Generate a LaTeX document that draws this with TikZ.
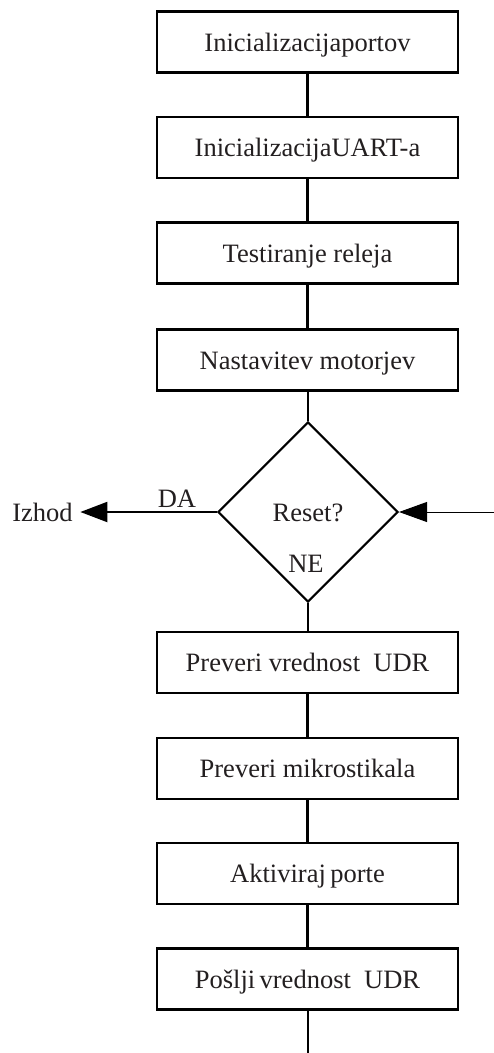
\documentclass[tikz,border=0pt]{standalone}
\usepackage{fontspec}
\setmainfont{Liberation Serif}
\usetikzlibrary{shapes.geometric,arrows.meta}
\definecolor{ink}{RGB}{35,31,32}
\begin{document}
\begin{tikzpicture}[x=1pt,y=-1pt,
  lbl/.style={text=ink, font=\fontsize{26.5}{30}\selectfont, inner sep=0pt, text height=18pt, text depth=0pt},
  stepbox/.style={lbl, draw=black, line width=2.1pt, minimum width=301pt, minimum height=61pt},
  decision/.style={lbl, diamond, draw=black, line width=2.1pt, minimum width=180pt, minimum height=180pt},
  conn/.style={draw=black, line width=2.1pt},
  arr/.style={conn, -{Triangle[length=27pt,width=20pt]}},
  thinarr/.style={draw=black, line width=1pt, -{Triangle[length=28pt,width=20pt]}}]
\useasboundingbox (0,0) rectangle (494,1053);
\node[stepbox] (b1) at (307.5,42) {Inicializacijaportov};
\node[stepbox] (b2) at (307.5,147.5) {InicializacijaUART-a};
\node[stepbox] (b3) at (307.5,253) {Testiranje releja};
\node[stepbox] (b4) at (307.5,360) {Nastavitev motorjev};
\node[decision] (dec) at (308,512) {Reset?};
\node[stepbox] (b5) at (307.5,662.5) {Preveri vrednost\ \ UDR};
\node[stepbox] (b6) at (307.5,768.5) {Preveri mikrostikala};
\node[stepbox] (b7) at (307.5,873.5) {Aktiviraj\,porte};
\node[stepbox] (b8) at (307.5,979) {Pošlji\,vrednost\ \ UDR};
\node[lbl, inner xsep=7.5pt] (izhod) at (42.5,512) {Izhod};
\node[lbl] (da) at (177,498) {DA};
\node[lbl] (ne) at (306,563) {NE};
\coordinate (in) at (494,512);
\coordinate (end) at (308,1053);
\draw[conn] (b1) -- (b2);
\draw[conn] (b2) -- (b3);
\draw[conn] (b3) -- (b4);
\draw[conn] (b4.south -| dec.north) -- (dec.north);
\draw[conn] (dec.south) -- (b5.north -| dec.south);
\draw[conn] (b5) -- (b6);
\draw[conn] (b6) -- (b7);
\draw[conn] (b7) -- (b8);
\draw[conn] (b8.south -| end) -- (end);
\draw[arr] (dec.west) -- (izhod.east);
\draw[thinarr] (in) -- (dec.east);
\end{tikzpicture}
\end{document}
